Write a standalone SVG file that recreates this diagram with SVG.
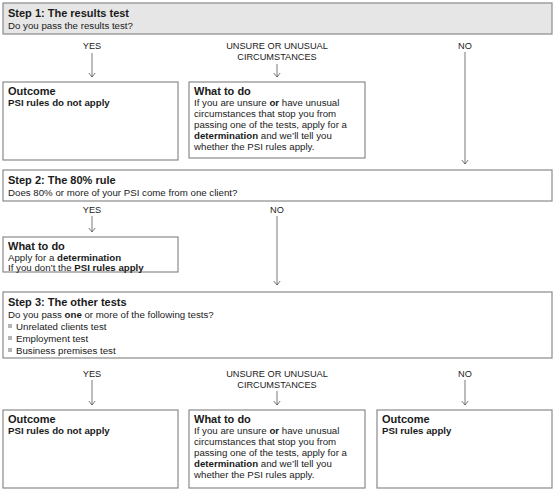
<svg xmlns="http://www.w3.org/2000/svg" width="554" height="490" viewBox="0 0 554 490">
<defs>
<style>
text{font-family:"Liberation Sans",Arial,sans-serif;font-size:9.7px;fill:#1a1a1a}
.t{font-weight:bold;font-size:11px}
.b{font-weight:bold}
.lbl{text-anchor:middle;font-size:9.2px}
.box{fill:#fff;stroke:#8a8a8a;stroke-width:1.2}
.gbox{fill:#e6e6e6;stroke:#8a8a8a;stroke-width:1.2}
.c{stroke:#555;stroke-width:0.8;fill:none}
.bul{fill:#b5b5b5}
</style>
<marker id="ah" viewBox="0 0 10 10" refX="9" refY="5" markerWidth="8" markerHeight="8" markerUnits="userSpaceOnUse" orient="auto">
<path d="M4 1 L9 5 L4 9" fill="none" stroke="#555" stroke-width="1"/>
</marker>
</defs>
<g id="connectors">
<line class="c" x1="92" y1="53" x2="92" y2="77" marker-end="url(#ah)"/>
<line class="c" x1="277" y1="64" x2="277" y2="77" marker-end="url(#ah)"/>
<line class="c" x1="465" y1="52" x2="465" y2="164" marker-end="url(#ah)"/>
<line class="c" x1="92" y1="216" x2="92" y2="232" marker-end="url(#ah)"/>
<line class="c" x1="277" y1="216" x2="277" y2="285" marker-end="url(#ah)"/>
<line class="c" x1="92" y1="380" x2="92" y2="405" marker-end="url(#ah)"/>
<line class="c" x1="277" y1="391" x2="277" y2="405" marker-end="url(#ah)"/>
<line class="c" x1="465" y1="380" x2="465" y2="405" marker-end="url(#ah)"/>
<text class="lbl" x="92" y="49">YES</text>
<text class="lbl" x="277" y="49">UNSURE OR UNUSUAL</text>
<text class="lbl" x="277" y="60">CIRCUMSTANCES</text>
<text class="lbl" x="465" y="49">NO</text>
<text class="lbl" x="92" y="213">YES</text>
<text class="lbl" x="277" y="213">NO</text>
<text class="lbl" x="92" y="377">YES</text>
<text class="lbl" x="277" y="377">UNSURE OR UNUSUAL</text>
<text class="lbl" x="277" y="388">CIRCUMSTANCES</text>
<text class="lbl" x="465" y="377">NO</text>
</g>
<g id="step1">
<rect class="gbox" x="3" y="3" width="549" height="31"/>
<text class="t" x="8" y="17">Step 1: The results test</text>
<text x="8" y="29">Do you pass the results test?</text>
</g>
<g id="outcome1">
<rect class="box" x="3" y="82" width="175" height="78"/>
<text class="t" x="8" y="95">Outcome</text>
<text class="b" x="8" y="106">PSI rules do not apply</text>
</g>
<g id="whattodo1">
<rect class="box" x="189" y="82" width="176" height="76"/>
<text class="t" x="194" y="95">What to do</text>
<text x="194" y="106">If you are unsure <tspan class="b">or</tspan> have unusual</text>
<text x="194" y="117">circumstances that stop you from</text>
<text x="194" y="128">passing one of the tests, apply for a</text>
<text x="194" y="139"><tspan class="b">determination</tspan> and we’ll tell you</text>
<text x="194" y="150">whether the PSI rules apply.</text>
</g>
<g id="step2">
<rect class="box" x="3" y="170" width="549" height="31"/>
<text class="t" x="8" y="184">Step 2: The 80% rule</text>
<text x="8" y="196">Does 80% or more of your PSI come from one client?</text>
</g>
<g id="whattodo2">
<rect class="box" x="3" y="237" width="175" height="35"/>
<text class="t" x="8" y="250">What to do</text>
<text x="8" y="261">Apply for a <tspan class="b">determination</tspan></text>
<text x="8" y="271">If you don’t the <tspan class="b">PSI rules apply</tspan></text>
</g>
<g id="step3">
<rect class="box" x="3" y="292" width="549" height="66"/>
<text class="t" x="8" y="306">Step 3: The other tests</text>
<text x="8" y="318">Do you pass <tspan class="b">one</tspan> or more of the following tests?</text>
<rect class="bul" x="8" y="324" width="4" height="4"/>
<text x="16" y="330">Unrelated clients test</text>
<rect class="bul" x="8" y="336" width="4" height="4"/>
<text x="16" y="342">Employment test</text>
<rect class="bul" x="8" y="348" width="4" height="4"/>
<text x="16" y="354">Business premises test</text>
</g>
<g id="outcome3a">
<rect class="box" x="3" y="410" width="175" height="78"/>
<text class="t" x="8" y="423">Outcome</text>
<text class="b" x="8" y="434">PSI rules do not apply</text>
</g>
<g id="whattodo3">
<rect class="box" x="189" y="410" width="176" height="78"/>
<text class="t" x="194" y="423">What to do</text>
<text x="194" y="434">If you are unsure <tspan class="b">or</tspan> have unusual</text>
<text x="194" y="445">circumstances that stop you from</text>
<text x="194" y="456">passing one of the tests, apply for a</text>
<text x="194" y="467"><tspan class="b">determination</tspan> and we’ll tell you</text>
<text x="194" y="478">whether the PSI rules apply.</text>
</g>
<g id="outcome3b">
<rect class="box" x="377" y="410" width="175" height="78"/>
<text class="t" x="382" y="423">Outcome</text>
<text class="b" x="382" y="434">PSI rules apply</text>
</g>
</svg>
